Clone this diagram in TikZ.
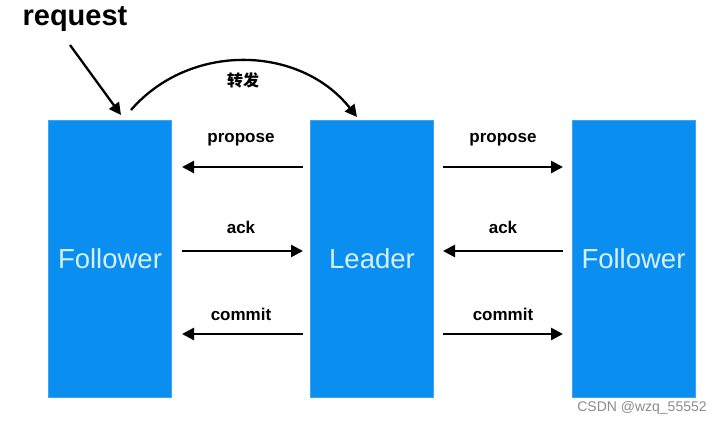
\documentclass[tikz,border=0pt]{standalone}
\usepackage{fontspec}
\setmainfont{Liberation Sans}
\newfontfamily\cjk{Noto Sans CJK SC}
\usetikzlibrary{arrows.meta}
\definecolor{boxblue}{RGB}{10,142,240}
\definecolor{boxtext}{RGB}{215,240,255}
\begin{document}
\begin{tikzpicture}[x=1pt,y=-1pt,
  server/.style={draw=boxblue!80!white,line width=0.8pt,fill=boxblue,minimum width=123pt,minimum height=277pt,inner sep=0pt,
     text=boxtext,font=\fontsize{27.5}{30}\selectfont},
  msg/.style={line width=2.6pt,-{Triangle[length=12pt,width=12pt]}},
  lbl/.style={font=\fontsize{17}{19}\selectfont\bfseries,inner sep=0pt}]
\useasboundingbox[fill=white] (0,0) rectangle (724,425);
\node[server] (f1) at (110,258.5) {Follower};
\node[server] (ld) at (372,258.5) {Leader};
\node[server] (f2) at (633.5,258.5) {Follower};
\coordinate (lp1) at (182,167); \coordinate (lp2) at (303,167);
\coordinate (la1) at (182,251); \coordinate (la2) at (303,251);
\coordinate (lc1) at (182,334); \coordinate (lc2) at (303,334);
\coordinate (rp1) at (443,167); \coordinate (rp2) at (563,167);
\coordinate (ra1) at (443,251); \coordinate (ra2) at (563,251);
\coordinate (rc1) at (443,334); \coordinate (rc2) at (563,334);
\draw[msg] (lp2) -- (lp1);
\draw[msg] (la1) -- (la2);
\draw[msg] (lc2) -- (lc1);
\draw[msg] (rp1) -- (rp2);
\draw[msg] (ra2) -- (ra1);
\draw[msg] (rc1) -- (rc2);
\node[lbl] (t1) at (241,140) {propose};
\node[lbl] (t2) at (241,227) {ack};
\node[lbl] (t3) at (241,314) {commit};
\node[lbl] (t4) at (503,140) {propose};
\node[lbl] (t5) at (503,227) {ack};
\node[lbl] (t6) at (503,314) {commit};
\node[font=\fontsize{29}{31}\selectfont\bfseries,inner sep=0pt] (req) at (75,19) {request};
\coordinate (rs) at (70,45);
\coordinate (re) at (121,115);
\draw[msg,line width=2.3pt] (rs) -- (re);
\coordinate (cs) at (131,110);
\coordinate (ce) at (357,117);
\draw[msg,line width=2.3pt] (cs) .. controls (190,42) and (300,45) .. (ce);
\node[font=\cjk\fontsize{16}{18}\selectfont\bfseries,inner sep=0pt] (zf) at (243,80) {转发};
\node[font=\fontsize{14}{16}\selectfont,text=black!45,inner sep=0pt] (wm) at (642,408) {CSDN @wzq\_55552};
\end{tikzpicture}
\end{document}
